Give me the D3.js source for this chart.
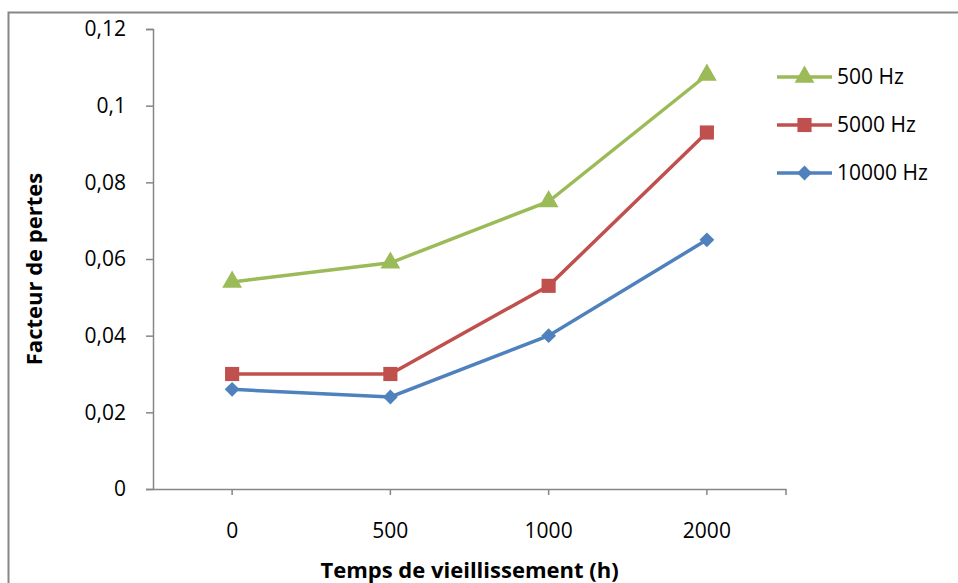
<!DOCTYPE html>
<html>
<head>
<meta charset="utf-8">
<script src="https://cdn.jsdelivr.net/npm/d3@7"></script>
<style>
  body { margin: 0; background: #fff; }
  svg text { font-family: "Open Sans", "Liberation Sans", sans-serif; fill: #000; }
</style>
</head>
<body>
<svg id="chart" width="958" height="583"></svg>
<script>
// chart data
var categories = ["0", "500", "1000", "2000"];
var seriesNames = ["500 Hz", "5000 Hz", "10000 Hz"];
var values500 = [0.054, 0.059, 0.075, 0.108];
var values5000 = [0.030, 0.030, 0.053, 0.093];
var values10000 = [0.026, 0.024, 0.040, 0.065];
var yTicks = [0, 0.02, 0.04, 0.06, 0.08, 0.1, 0.12];

var colors = ["#9BBB59", "#C0504D", "#4F81BD"];
var series = [values500, values5000, values10000];

// marker shapes: triangle, square, diamond (= square turned 45deg)
var symbols = [d3.symbolTriangle, d3.symbolSquare, d3.symbolSquare];
var symbolSizes = [170, 200, 110];
var symbolRotate = [0, 0, 45];

var svg = d3.select("svg#chart");

// outer chart border
svg.append("rect")
    .attr("x", 8.5).attr("y", 12.5)
    .attr("width", 1000).attr("height", 1000)
    .attr("fill", "none").attr("stroke", "#878787").attr("stroke-width", 2);

var plotLeft = 153, plotRight = 786, plotTop = 29, plotBottom = 489;

var x = d3.scaleBand().domain(categories).range([plotLeft, plotRight]);
var y = d3.scaleLinear().domain([0, 0.12]).range([plotBottom, plotTop]);

var fmt = function (d) { return d3.format("")(d).replace(".", ","); };

// y axis
var yAxis = svg.append("g")
    .attr("transform", "translate(" + plotLeft + ",0)")
    .call(d3.axisLeft(y).tickValues(yTicks).tickFormat(fmt).tickSize(7).tickPadding(20));
yAxis.select(".domain").attr("stroke", "#868686").attr("stroke-width", 1.5);
yAxis.selectAll(".tick line").attr("stroke", "#868686").attr("stroke-width", 1.5);
yAxis.selectAll("text").style("font-size", "21px").attr("fill", "#000");

// x axis (ticks at category centres plus the end)
var xAxis = svg.append("g")
    .attr("transform", "translate(0," + plotBottom + ")")
    .call(d3.axisBottom(x).tickSize(6).tickSizeOuter(0).tickPadding(28));
xAxis.select(".domain").attr("stroke", "#868686").attr("stroke-width", 1.5);
xAxis.selectAll(".tick line").attr("stroke", "#868686").attr("stroke-width", 1.5);
xAxis.selectAll("text").style("font-size", "21px").attr("fill", "#000");
xAxis.append("line")
    .attr("x1", plotRight).attr("x2", plotRight).attr("y1", 0).attr("y2", 6)
    .attr("stroke", "#868686").attr("stroke-width", 1.5);

// axis titles
svg.append("text")
    .attr("x", (plotLeft + plotRight) / 2).attr("y", 578)
    .attr("text-anchor", "middle")
    .style("font-size", "22px").style("font-weight", "bold")
    .text("Temps de vieillissement (h)");

svg.append("text")
    .attr("transform", "translate(42,269) rotate(-90)")
    .attr("text-anchor", "middle")
    .style("font-size", "22px").style("font-weight", "bold")
    .text("Facteur de pertes");

// lines and markers
var cx = function (i) { return x(categories[i]) + x.bandwidth() / 2; };
var line = d3.line()
    .x(function (d, i) { return cx(i); })
    .y(function (d) { return y(d); });

series.forEach(function (vals, s) {
    svg.append("path")
        .datum(vals)
        .attr("d", line)
        .attr("fill", "none")
        .attr("stroke", colors[s])
        .attr("stroke-width", 3.5);

    svg.append("g").selectAll("path")
        .data(vals)
        .enter().append("path")
        .attr("d", d3.symbol().type(symbols[s]).size(symbolSizes[s]))
        .attr("transform", function (d, i) {
            return "translate(" + cx(i) + "," + y(d) + ") rotate(" + symbolRotate[s] + ")";
        })
        .attr("fill", colors[s]);
});

// legend
var legendY = [77, 125, 173];
var legend = svg.append("g");
seriesNames.forEach(function (name, s) {
    var g = legend.append("g").attr("transform", "translate(0," + legendY[s] + ")");
    g.append("line")
        .attr("x1", 777).attr("x2", 832).attr("y1", 0).attr("y2", 0)
        .attr("stroke", colors[s]).attr("stroke-width", 3.5);
    g.append("path")
        .attr("d", d3.symbol().type(symbols[s]).size(symbolSizes[s]))
        .attr("transform", "translate(804.5,0) rotate(" + symbolRotate[s] + ")")
        .attr("fill", colors[s]);
    g.append("text")
        .attr("x", 837).attr("y", 0).attr("dy", "0.35em")
        .style("font-size", "21px")
        .text(name);
});
</script>
</body>
</html>
